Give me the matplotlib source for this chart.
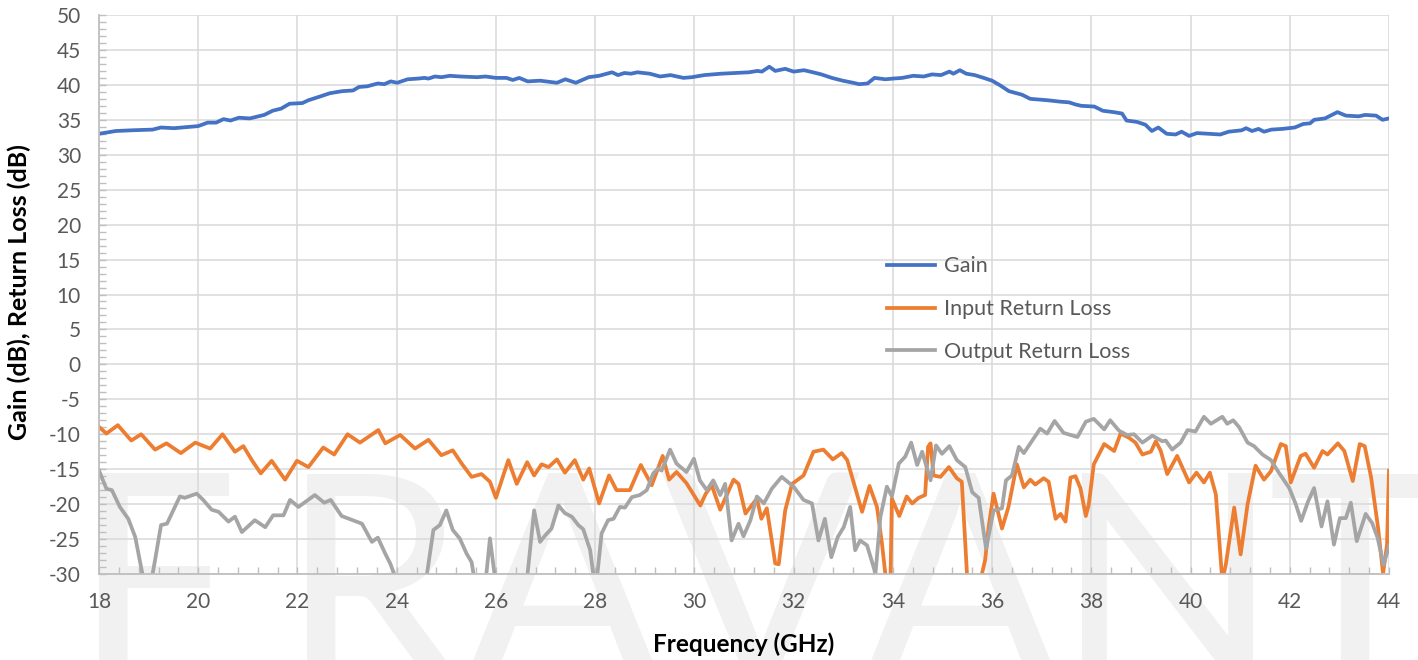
import matplotlib
matplotlib.use('Agg')
import matplotlib.pyplot as plt
from matplotlib.ticker import MultipleLocator

plt.rcParams['font.family'] = ['Lato', 'DejaVu Sans']
plt.rcParams['axes.unicode_minus'] = False

# Gain (dB)
gain_f = [18.0, 18.34, 18.66, 19.08, 19.25, 19.51, 20.0, 20.19, 20.36, 20.51, 20.65, 20.82,
          21.04, 21.33, 21.5, 21.67, 21.84, 22.1, 22.22, 22.44, 22.65, 22.9, 23.12, 23.24,
          23.41, 23.62, 23.75, 23.88, 24.01, 24.22, 24.43, 24.56, 24.64, 24.77, 24.9, 25.07,
          25.28, 25.62, 25.79, 26.0, 26.21, 26.34, 26.47, 26.64, 26.89, 27.23, 27.4, 27.61,
          27.87, 28.08, 28.34, 28.46, 28.59, 28.72, 28.85, 29.1, 29.31, 29.52, 29.78, 29.95,
          30.2, 30.54, 30.8, 31.1, 31.27, 31.36, 31.51, 31.63, 31.83, 32.0, 32.21, 32.39,
          32.56, 32.77, 32.99, 33.2, 33.32, 33.49, 33.63, 33.85, 34.0, 34.19, 34.41, 34.62,
          34.79, 34.97, 35.14, 35.22, 35.35, 35.48, 35.65, 35.83, 36.0, 36.17, 36.34, 36.6,
          36.77, 37.12, 37.37, 37.55, 37.68, 37.8, 38.06, 38.23, 38.45, 38.62, 38.71, 38.92,
          39.09, 39.22, 39.35, 39.52, 39.7, 39.82, 39.97, 40.13, 40.38, 40.6, 40.77, 41.03,
          41.12, 41.24, 41.37, 41.48, 41.63, 41.85, 42.1, 42.27, 42.41, 42.49, 42.71, 42.96,
          43.13, 43.39, 43.52, 43.74, 43.87, 44.0]
gain_db = [33.0, 33.4, 33.5, 33.6, 33.9, 33.8, 34.1, 34.6, 34.6, 35.1, 34.9, 35.3,
           35.2, 35.7, 36.3, 36.6, 37.3, 37.4, 37.8, 38.3, 38.8, 39.1, 39.2, 39.7,
           39.8, 40.2, 40.1, 40.5, 40.3, 40.8, 40.9, 41.0, 40.9, 41.2, 41.1, 41.3,
           41.2, 41.1, 41.2, 41.0, 41.0, 40.7, 41.0, 40.5, 40.6, 40.3, 40.8, 40.3,
           41.1, 41.3, 41.8, 41.4, 41.7, 41.6, 41.8, 41.6, 41.2, 41.4, 41.0, 41.1,
           41.4, 41.6, 41.7, 41.8, 42.0, 41.9, 42.6, 42.0, 42.3, 41.9, 42.1, 41.8,
           41.5, 41.0, 40.6, 40.3, 40.1, 40.2, 41.0, 40.8, 40.9, 41.0, 41.3, 41.2,
           41.5, 41.4, 41.9, 41.6, 42.1, 41.6, 41.4, 41.0, 40.6, 39.9, 39.1, 38.6,
           38.0, 37.8, 37.6, 37.5, 37.2, 37.0, 36.9, 36.3, 36.1, 35.9, 34.9, 34.7,
           34.3, 33.4, 33.9, 33.0, 32.9, 33.3, 32.7, 33.1, 33.0, 32.9, 33.3, 33.5,
           33.8, 33.4, 33.7, 33.3, 33.6, 33.7, 33.9, 34.4, 34.5, 35.0, 35.2, 36.1,
           35.6, 35.5, 35.7, 35.6, 35.0, 35.2]

# Input return loss (dB)
inp_f = [18.0, 18.15, 18.38, 18.65, 18.85, 19.13, 19.36, 19.65, 19.94, 20.24, 20.49, 20.74,
         20.91, 21.08, 21.26, 21.48, 21.75, 21.99, 22.22, 22.52, 22.74, 23.01, 23.26, 23.63,
         23.77, 24.07, 24.37, 24.64, 24.9, 25.13, 25.31, 25.51, 25.71, 25.88, 26.0, 26.25,
         26.42, 26.63, 26.77, 26.92, 27.06, 27.23, 27.39, 27.59, 27.76, 27.88, 28.08, 28.28,
         28.43, 28.7, 28.92, 29.14, 29.36, 29.49, 29.64, 29.84, 30.12, 30.23, 30.35, 30.52,
         30.79, 30.89, 31.03, 31.26, 31.35, 31.46, 31.63, 31.7, 31.83, 31.97, 32.2, 32.4,
         32.6, 32.79, 32.97, 33.08, 33.38, 33.53, 33.68, 33.78, 33.88, 33.95, 33.98, 34.13,
         34.28, 34.39, 34.52, 34.65, 34.71, 34.76, 34.82, 34.96, 35.13, 35.29, 35.39, 35.51,
         35.73, 35.86, 35.93, 36.03, 36.2, 36.33, 36.5, 36.64, 36.77, 36.87, 37.04, 37.14,
         37.28, 37.38, 37.48, 37.58, 37.68, 37.78, 37.89, 37.95, 38.05, 38.26, 38.46, 38.59,
         38.76, 38.89, 39.03, 39.2, 39.3, 39.4, 39.53, 39.73, 39.97, 40.12, 40.27, 40.39,
         40.51, 40.64, 40.71, 40.88, 41.01, 41.15, 41.31, 41.48, 41.62, 41.82, 41.92, 42.02,
         42.22, 42.32, 42.49, 42.66, 42.76, 42.97, 43.1, 43.27, 43.41, 43.51, 43.64, 43.78,
         43.88, 43.96, 44.0]
inp_db = [-8.95, -9.9, -8.7, -10.9, -10.0, -12.2, -11.3, -12.7, -11.2, -12.05, -10.0, -12.5,
          -11.7, -13.7, -15.6, -13.8, -16.5, -13.8, -14.7, -11.9, -12.9, -10.0, -11.2, -9.4,
          -11.3, -10.1, -12.05, -10.8, -13.0, -12.3, -14.2, -16.1, -15.7, -16.8, -19.1, -13.7,
          -17.1, -14.0, -15.9, -14.3, -14.7, -13.6, -15.5, -13.7, -16.5, -14.9, -19.9, -15.9,
          -18.0, -18.0, -14.4, -17.3, -13.1, -16.5, -15.4, -17.0, -20.2, -18.5, -17.3, -20.8,
          -16.5, -17.1, -21.35, -19.2, -22.1, -20.6, -28.5, -28.6, -20.9, -17.1, -15.9, -12.5,
          -12.2, -13.6, -12.7, -13.7, -21.1, -17.4, -20.4, -25.6, -32.0, -32.0, -19.2, -21.7,
          -18.9, -19.9, -19.1, -18.7, -11.8, -11.3, -15.9, -16.1, -14.7, -16.3, -16.8, -32.0,
          -32.0, -28.0, -23.3, -18.5, -23.5, -20.4, -14.3, -17.6, -16.5, -17.2, -16.3, -16.8,
          -22.1, -21.4, -22.5, -16.2, -16.0, -17.7, -21.7, -20.0, -14.3, -11.4, -12.4, -9.9,
          -10.5, -11.2, -12.9, -12.5, -11.0, -12.4, -15.7, -13.1, -16.9, -15.5, -16.9, -15.5,
          -18.6, -31.0, -28.7, -20.5, -27.2, -20.0, -14.5, -16.5, -15.3, -11.4, -11.7, -16.9,
          -13.1, -12.8, -14.8, -12.4, -12.9, -11.3, -12.4, -16.7, -11.4, -11.7, -16.2, -23.4,
          -29.9, -25.8, -15.2]

# Output return loss (dB)
out_f = [18.0, 18.15, 18.26, 18.42, 18.59, 18.73, 18.93, 19.03, 19.13, 19.25, 19.37, 19.53,
         19.63, 19.73, 19.97, 20.1, 20.27, 20.41, 20.61, 20.74, 20.88, 21.14, 21.35, 21.51,
         21.72, 21.85, 22.02, 22.35, 22.54, 22.67, 22.89, 23.3, 23.5, 23.62, 23.77, 23.87,
         23.97, 24.2, 24.5, 24.6, 24.74, 24.87, 25.0, 25.13, 25.27, 25.41, 25.51, 25.56,
         25.68, 25.8, 25.88, 25.98, 26.2, 26.5, 26.63, 26.77, 26.89, 26.99, 27.12, 27.26,
         27.39, 27.53, 27.66, 27.76, 27.9, 27.98, 28.03, 28.13, 28.26, 28.37, 28.5, 28.6,
         28.74, 28.9, 29.04, 29.17, 29.27, 29.34, 29.51, 29.64, 29.84, 29.99, 30.11, 30.25,
         30.38, 30.52, 30.62, 30.75, 30.89, 30.99, 31.13, 31.26, 31.4, 31.56, 31.76, 32.0,
         32.2, 32.37, 32.5, 32.63, 32.76, 32.89, 33.01, 33.14, 33.24, 33.34, 33.48, 33.65,
         33.75, 33.88, 33.98, 34.12, 34.25, 34.37, 34.49, 34.59, 34.76, 34.87, 34.99, 35.14,
         35.29, 35.46, 35.6, 35.73, 35.88, 36.03, 36.2, 36.28, 36.4, 36.54, 36.64, 36.81,
         36.97, 37.11, 37.26, 37.44, 37.58, 37.72, 37.89, 38.05, 38.26, 38.38, 38.56, 38.72,
         38.86, 39.03, 39.23, 39.43, 39.5, 39.63, 39.8, 39.94, 40.1, 40.27, 40.41, 40.64,
         40.74, 40.86, 40.98, 41.15, 41.28, 41.45, 41.62, 41.78, 41.99, 42.12, 42.23, 42.37,
         42.49, 42.64, 42.76, 42.89, 43.01, 43.13, 43.23, 43.35, 43.53, 43.66, 43.77, 43.89,
         44.0]
out_db = [-15.2, -17.8, -18.0, -20.4, -22.1, -24.7, -32.0, -32.0, -28.0, -23.0, -22.8, -20.4,
          -18.9, -19.1, -18.5, -19.4, -20.8, -21.1, -22.5, -21.8, -24.0, -22.3, -23.3, -21.6,
          -21.6, -19.4, -20.4, -18.7, -19.8, -19.4, -21.7, -22.8, -25.4, -24.8, -27.1, -28.5,
          -30.4, -34.0, -34.0, -30.5, -23.7, -23.0, -20.9, -23.7, -24.9, -27.1, -28.3, -30.5,
          -33.0, -30.5, -24.9, -30.5, -34.0, -34.0, -30.5, -20.9, -25.4, -24.5, -23.5, -20.2,
          -21.3, -21.8, -23.0, -23.6, -26.6, -31.0, -31.0, -24.2, -22.3, -22.1, -20.4, -20.5,
          -19.0, -18.7, -18.0, -15.6, -14.9, -15.2, -12.2, -14.2, -15.4, -13.5, -16.6, -18.0,
          -16.6, -18.7, -17.1, -25.2, -22.8, -24.6, -22.3, -18.9, -19.9, -17.8, -16.1, -17.5,
          -19.4, -19.9, -25.2, -22.1, -27.6, -24.7, -23.3, -20.4, -26.6, -25.2, -25.9, -29.9,
          -21.8, -17.5, -18.9, -14.2, -13.2, -11.2, -14.4, -12.5, -16.6, -11.6, -12.8, -11.7,
          -13.7, -14.7, -18.3, -19.1, -26.4, -20.9, -20.6, -16.6, -15.9, -11.8, -12.7, -10.9,
          -9.2, -9.9, -8.1, -9.8, -10.1, -10.4, -8.2, -7.8, -9.3, -8.0, -9.5, -10.1,
          -10.0, -11.2, -10.2, -11.0, -10.9, -12.2, -11.2, -9.4, -9.6, -7.5, -8.5, -7.5,
          -8.5, -8.0, -9.0, -11.2, -11.7, -12.9, -13.7, -15.5, -17.7, -20.0, -22.4, -19.6,
          -17.7, -23.2, -19.6, -25.8, -22.0, -22.0, -19.8, -25.3, -21.4, -22.7, -24.8, -28.7,
          -26.0]

fig = plt.figure(figsize=(14.18, 6.6), dpi=100)

# watermark letters behind the plot
wm_letters = ['E', 'R', 'A', 'V', 'A', 'N', 'T']
wm_x = [72, 280, 462, 660, 860, 1055, 1268]
for ch, xp in zip(wm_letters, wm_x):
    fig.text(xp / 1418, -0.035, ch, fontsize=212, fontweight='normal', color='#f1f1f1',
             ha='left', va='baseline', zorder=-5)

ax = fig.add_axes([99 / 1418, 1 - 574 / 660, 1290 / 1418, 559 / 660])
ax.patch.set_visible(False)

ax.plot(gain_f, gain_db, color='#4472C4', lw=2.7, label='Gain', solid_joinstyle='round')
ax.plot(inp_f, inp_db, color='#ED7D31', lw=2.7, label='Input Return Loss',
        solid_joinstyle='round')
ax.plot(out_f, out_db, color='#A5A5A5', lw=2.7, label='Output Return Loss',
        solid_joinstyle='round')

ax.set_xlim(18, 44)
ax.set_ylim(-30, 50)
ax.xaxis.set_major_locator(MultipleLocator(2))
ax.xaxis.set_minor_locator(MultipleLocator(0.4))
ax.yaxis.set_major_locator(MultipleLocator(5))
ax.yaxis.set_minor_locator(MultipleLocator(1))

ax.grid(which='major', color='#d9d9d9', lw=1.1)
ax.set_axisbelow(True)
for s in ['top', 'right']:
    ax.spines[s].set_visible(False)
for s in ['left', 'bottom']:
    ax.spines[s].set_color('#bfbfbf')
    ax.spines[s].set_linewidth(1.3)
ax.tick_params(which='both', direction='in', color='#bfbfbf', length=5, width=1)
ax.tick_params(which='major', labelsize=15, labelcolor='#595959', pad=13)

ax.set_xlabel('Frequency (GHz)', fontsize=17.5, fontweight='bold')
ax.set_ylabel('Gain (dB), Return Loss (dB)', fontsize=18, fontweight='bold')
ax.xaxis.set_label_coords(0.5, -0.104)
ax.yaxis.set_label_coords(-0.053, 0.505)

ax.legend(loc='upper left', bbox_to_anchor=(0.611, 0.568), frameon=False, fontsize=15.5,
          labelcolor='#595959', handlelength=2.2, handletextpad=0.42, labelspacing=1.05,
          borderpad=0, borderaxespad=0)

fig.savefig('out.png', dpi=100)
